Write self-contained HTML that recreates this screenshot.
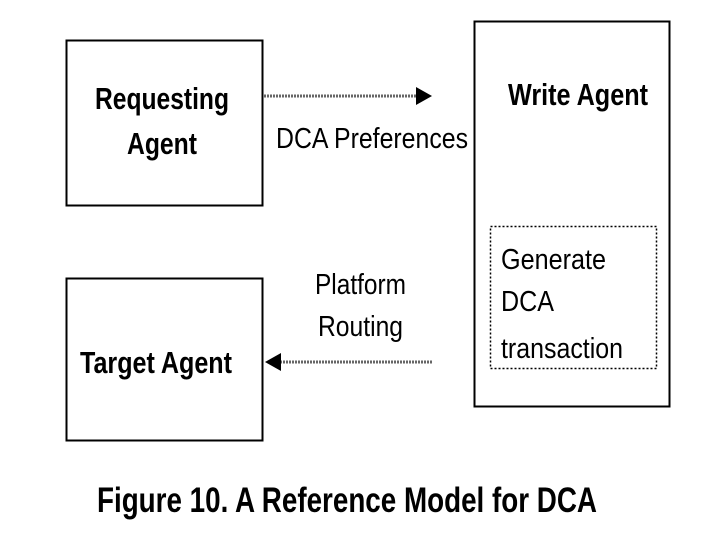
<!DOCTYPE html>
<html><head><meta charset="utf-8"><style>
html,body{margin:0;padding:0;background:#fff;}
svg{display:block;}
text{font-family:"Liberation Sans Narrow","Liberation Sans",sans-serif;fill:#000;}
.b{font-weight:bold;}
</style></head><body>
<svg width="720" height="540" viewBox="0 0 720 540" xmlns="http://www.w3.org/2000/svg">
<rect x="0" y="0" width="720" height="540" fill="#fff"/>
<rect x="66.5" y="40.5" width="196" height="165" fill="none" stroke="#000" stroke-width="2"/>
<rect x="66.5" y="278.5" width="196" height="162" fill="none" stroke="#000" stroke-width="2"/>
<rect x="474.5" y="21.5" width="195" height="385" fill="none" stroke="#000" stroke-width="2"/>
<rect x="490.5" y="226.5" width="166" height="142" fill="none" stroke="#000" stroke-width="1.5" stroke-dasharray="2,2"/>
<line x1="264" y1="96" x2="418" y2="96" stroke="#666" stroke-width="3" stroke-dasharray="2,1"/>
<polygon points="416,87 432,96 416,105" fill="#000"/>
<line x1="280" y1="362" x2="433" y2="362" stroke="#666" stroke-width="3" stroke-dasharray="2,1"/>
<polygon points="281,353 265,362 281,371" fill="#000"/>
<text class="b" x="95" y="109" font-size="31" textLength="134" lengthAdjust="spacingAndGlyphs">Requesting</text>
<text class="b" x="127" y="154" font-size="31" textLength="70" lengthAdjust="spacingAndGlyphs">Agent</text>
<text x="276" y="148" font-size="29" textLength="192" lengthAdjust="spacingAndGlyphs">DCA Preferences</text>
<text class="b" x="508" y="105" font-size="31" textLength="140" lengthAdjust="spacingAndGlyphs">Write Agent</text>
<text x="315" y="294" font-size="29" textLength="91" lengthAdjust="spacingAndGlyphs">Platform</text>
<text x="318" y="336" font-size="29" textLength="85" lengthAdjust="spacingAndGlyphs">Routing</text>
<text class="b" x="80" y="373" font-size="31" textLength="152" lengthAdjust="spacingAndGlyphs">Target Agent</text>
<text x="501" y="269" font-size="29" textLength="105" lengthAdjust="spacingAndGlyphs">Generate</text>
<text x="501" y="311" font-size="29" textLength="53" lengthAdjust="spacingAndGlyphs">DCA</text>
<text x="501" y="358" font-size="29" textLength="122" lengthAdjust="spacingAndGlyphs">transaction</text>
<text class="b" x="97" y="512" font-size="35" textLength="500" lengthAdjust="spacingAndGlyphs">Figure 10. A Reference Model for DCA</text>
</svg>
</body></html>
